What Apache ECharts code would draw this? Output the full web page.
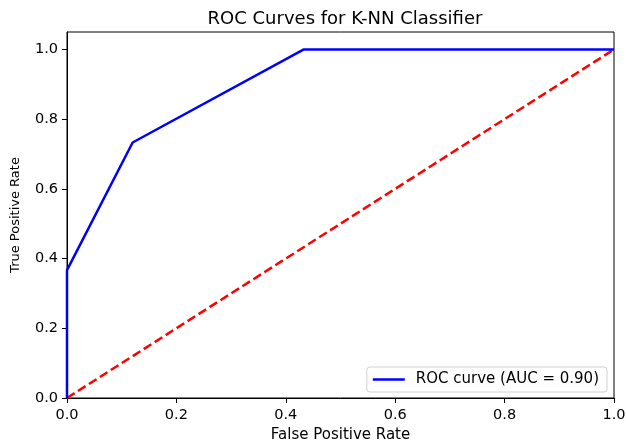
<!DOCTYPE html>
<html>
<head>
<meta charset="utf-8">
<script src="https://cdn.jsdelivr.net/npm/echarts@6/dist/echarts.min.js"></script>
<style>
  html, body { margin: 0; padding: 0; background: #fff; }
  #chart { width: 626px; height: 441px; }
</style>
</head>
<body>
<div id="chart"></div>
<script>
// ROC curve points for the K-NN classifier
const fpr = [0.0, 0.0, 0.12, 0.433, 1.0];
const tpr = [0.0, 0.367, 0.733, 1.0, 1.0];
const aucValue = 0.90;
// Chance line
const chanceX = [0, 1];
const chanceY = [0, 1];

const FONT = "'DejaVu Sans', sans-serif";
const rocName = 'ROC curve (AUC = ' + aucValue.toFixed(2) + ')';

const chart = echarts.init(document.getElementById('chart'));
chart.setOption({
  animation: false,
  backgroundColor: '#ffffff',
  title: {
    text: 'ROC Curves for K-NN Classifier',
    left: 340, top: 5, textAlign: 'center',
    textStyle: { fontFamily: FONT, fontSize: 18, fontWeight: 'normal', color: '#000' }
  },
  grid: {
    left: 67, right: 12, top: 32, bottom: 43,
    outerBoundsMode: 'none', containLabel: false,
    show: true, borderColor: '#000', borderWidth: 1, backgroundColor: 'transparent'
  },
  legend: {
    data: [rocName],
    right: 19, bottom: 49,
    orient: 'vertical',
    backgroundColor: '#fff',
    borderColor: '#d0d0d0', borderWidth: 1, borderRadius: 3,
    padding: [5, 8, 5, 6],
    itemWidth: 32, itemHeight: 2.5,
    itemGap: 8,
    icon: 'rect',
    textStyle: { fontFamily: FONT, fontSize: 15, color: '#000', padding: [0, 0, 0, 6] }
  },
  xAxis: {
    type: 'value', min: 0, max: 1, interval: 0.2,
    name: 'False Positive Rate', nameLocation: 'middle', nameGap: 28,
    nameTextStyle: { fontFamily: FONT, fontSize: 15, color: '#000' },
    axisLine: { show: true, lineStyle: { color: '#000', width: 1 } },
    axisTick: { show: true, length: 5, lineStyle: { color: '#000' } },
    axisLabel: { fontFamily: FONT, fontSize: 14.5, color: '#000', margin: 10,
      formatter: v => v.toFixed(1) },
    splitLine: { show: false }
  },
  yAxis: {
    type: 'value', min: 0, max: 1.05, interval: 0.2,
    name: 'True Positive Rate', nameLocation: 'middle', nameGap: 45,
    nameTextStyle: { fontFamily: FONT, fontSize: 13, color: '#000' },
    axisLine: { show: true, lineStyle: { color: '#000', width: 1 } },
    axisTick: { show: true, length: 5, lineStyle: { color: '#000' } },
    axisLabel: { fontFamily: FONT, fontSize: 14.5, color: '#000', margin: 9,
      showMaxLabel: false,
      formatter: v => (v > 1.001 ? '' : v.toFixed(1)) },
    splitLine: { show: false }
  },
  series: [
    {
      name: rocName,
      type: 'line',
      data: fpr.map((x, i) => [x, tpr[i]]),
      showSymbol: false,
      lineStyle: { color: '#0000ff', width: 2.5 },
      itemStyle: { color: '#0000ff' },
      z: 3
    },
    {
      name: 'chance',
      type: 'line',
      data: chanceX.map((x, i) => [x, chanceY[i]]),
      showSymbol: false,
      lineStyle: { color: '#ff0000', width: 2.5, type: [9, 4] },
      z: 2
    }
  ]
});
</script>
</body>
</html>
